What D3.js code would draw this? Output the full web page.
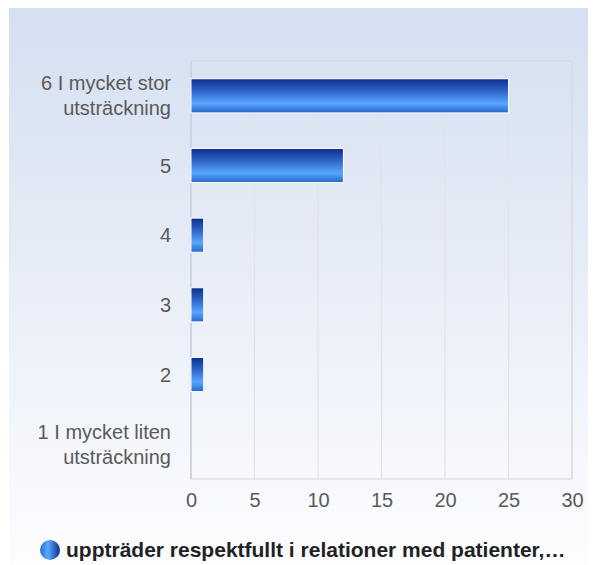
<!DOCTYPE html>
<html>
<head>
<meta charset="utf-8">
<script src="https://cdn.jsdelivr.net/npm/d3@7/dist/d3.min.js"></script>
<style>
  body { margin: 0; background: #fff; }
  text { font-family: "Liberation Sans", Arial, sans-serif; }
</style>
</head>
<body>
<div id="chart"></div>
<script>
const width = 596;
const height = 565;

// data
const categories = ["6 I mycket stor\nutsträckning", "5", "4", "3", "2", "1 I mycket liten\nutsträckning"];
const values = [25, 12, 1, 1, 1, 0];
const xTicks = [0, 5, 10, 15, 20, 25, 30];
const seriesName = "uppträder respektfullt i relationer med patienter,…";

const margin = { top: 61, right: 24, bottom: 86, left: 191 };

const svg = d3.select("#chart")
  .append("svg")
  .attr("width", width)
  .attr("height", height);

const defs = svg.append("defs");

const bg = defs.append("linearGradient")
  .attr("id", "bg")
  .attr("x1", 0).attr("y1", 0).attr("x2", 0).attr("y2", 1);
bg.append("stop").attr("offset", "0%").attr("stop-color", "#d4dff0");
bg.append("stop").attr("offset", "100%").attr("stop-color", "#fdfdff");

const barGrad = defs.append("linearGradient")
  .attr("id", "bar")
  .attr("x1", 0).attr("y1", 0).attr("x2", 0).attr("y2", 1);
barGrad.append("stop").attr("offset", "0%").attr("stop-color", "#0b2d8c");
barGrad.append("stop").attr("offset", "35%").attr("stop-color", "#2d63c8");
barGrad.append("stop").attr("offset", "72%").attr("stop-color", "#58a6ff");
barGrad.append("stop").attr("offset", "100%").attr("stop-color", "#2767c9");

const legGrad = defs.append("linearGradient")
  .attr("id", "leg")
  .attr("x1", 0).attr("y1", 0).attr("x2", 1).attr("y2", 0);
legGrad.append("stop").attr("offset", "0%").attr("stop-color", "#2a6fd6");
legGrad.append("stop").attr("offset", "40%").attr("stop-color", "#5aa8ff");
legGrad.append("stop").attr("offset", "100%").attr("stop-color", "#0b2d8c");

svg.append("rect")
  .attr("x", 9).attr("y", 8)
  .attr("width", 579).attr("height", height - 8)
  .attr("fill", "url(#bg)");

const x = d3.scaleLinear()
  .domain([0, 30])
  .range([margin.left, width - margin.right]);

const y = d3.scaleBand()
  .domain(categories)
  .range([margin.top, height - margin.bottom])
  .paddingInner(0.51)
  .paddingOuter(0.255);

// grid
svg.append("g")
  .selectAll("line")
  .data(xTicks.slice(1))
  .join("line")
  .attr("x1", d => x(d)).attr("x2", d => x(d))
  .attr("y1", margin.top).attr("y2", height - margin.bottom)
  .attr("stroke", "#dfe3ea")
  .attr("stroke-width", 1.2);

// plot frame
svg.append("rect")
  .attr("x", margin.left)
  .attr("y", margin.top)
  .attr("width", x(30) - margin.left)
  .attr("height", height - margin.bottom - margin.top)
  .attr("fill", "none")
  .attr("stroke", "#d3d6dc");

svg.append("line")
  .attr("x1", margin.left).attr("x2", margin.left)
  .attr("y1", margin.top).attr("y2", height - margin.bottom)
  .attr("stroke", "#c8d0e0")
  .attr("stroke-width", 1.5);

// bars
svg.append("g")
  .selectAll("rect")
  .data(categories.map((c, i) => ({ c, v: values[i] })).filter(d => d.v > 0))
  .join("rect")
  .attr("x", x(0))
  .attr("y", d => y(d.c))
  .attr("width", d => x(d.v) - x(0))
  .attr("height", y.bandwidth())
  .attr("fill", "url(#bar)")
  .attr("stroke", "#fff")
  .attr("stroke-width", 1);

// x axis
const xAxis = svg.append("g")
  .attr("transform", `translate(0,${height - margin.bottom})`)
  .call(d3.axisBottom(x).tickValues(xTicks).tickSize(0).tickPadding(14));
xAxis.select(".domain").remove();
xAxis.selectAll("text")
  .attr("font-size", 20)
  .attr("fill", "#5a5a5a")
  .style("font-family", "Liberation Sans, Arial, sans-serif");

// y axis labels
const yLabels = svg.append("g")
  .selectAll("text")
  .data(categories)
  .join("text")
  .attr("text-anchor", "end")
  .attr("font-size", 20)
  .attr("fill", "#5a5a5a")
  .attr("x", margin.left - 20)
  .attr("y", d => y(d) + y.bandwidth() / 2);

yLabels.each(function(d) {
  const lines = d.split("\n");
  const t = d3.select(this);
  const lh = 25;
  const start = -(lines.length - 1) * lh / 2;
  lines.forEach((ln, i) => {
    t.append("tspan")
      .attr("x", margin.left - 20)
      .attr("dy", i === 0 ? start + 7 : lh)
      .text(ln);
  });
});

// legend
const legend = svg.append("g").attr("transform", "translate(50,550)");
legend.append("circle")
  .attr("r", 10)
  .attr("fill", "url(#leg)");
legend.append("text")
  .attr("x", 16)
  .attr("y", 7)
  .attr("font-size", 21)
  .attr("font-weight", "bold")
  .attr("fill", "#222")
  .text(seriesName);
</script>
</body>
</html>
